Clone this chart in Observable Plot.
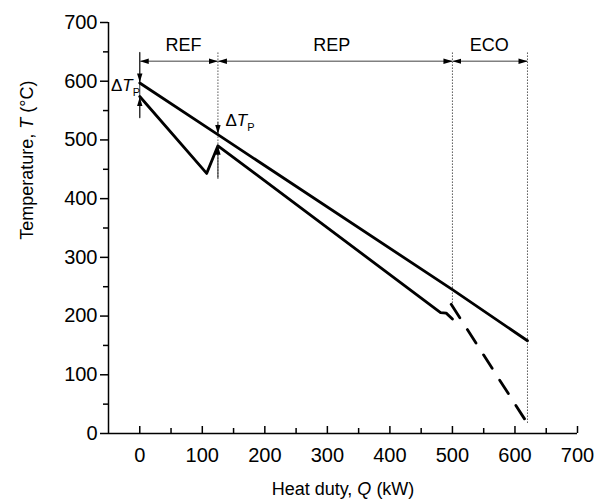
<!DOCTYPE html>
<html><head><meta charset="utf-8">
<script src="https://cdn.jsdelivr.net/npm/d3@7"></script>
<script src="https://cdn.jsdelivr.net/npm/@observablehq/plot@0.6"></script>
<style>body{margin:0;background:#fff}</style>
</head><body><div id="chart"></div>
<script>
// ---- data ----
const hotQ  = [0, 125, 500, 620];
const hotT  = [597, 509, 245, 158];
const coldQ = [0, 107, 125, 481, 490, 500];
const coldT = [574, 443, 490, 206, 205, 195];
const ecoQ  = [498, 617];
const ecoT  = [220, 22];

const sectionNames  = ["REF", "REP", "ECO"];
const sectionStart  = [0, 125, 500];
const sectionEnd    = [125, 500, 620];
const sectionLabelQ = [70, 307, 559];
const sectionLabelT = 661;
const sectionArrowT = 634;

const boundaryQ      = [125, 500, 620];
const boundaryTop    = [649, 649, 649];
const boundaryBottom = [434, 222, 17];

const pinchQ    = [0, 0, 125, 125];
const pinchFrom = [649, 537, 530, 434];
const pinchTo   = [598, 573, 510, 490];

const dtpLabelQ = [-46, 137];
const dtpLabelT = [583, 523];

const xMajor = [0, 100, 200, 300, 400, 500, 600, 700];
const xMinor = [50, 150, 250, 350, 450, 550, 650];
const yMajor = [0, 100, 200, 300, 400, 500, 600, 700];
const yMinor = [50, 150, 250, 350, 450, 550, 650];

const xTitle = "Heat duty, Q (kW)";
const yTitle = "Temperature, T (°C)";

// ---- tables ----
const hot  = hotQ.map((q, i) => ({q, t: hotT[i]}));
const cold = coldQ.map((q, i) => ({q, t: coldT[i]}));
const eco  = ecoQ.map((q, i) => ({q, t: ecoT[i]}));
const sections = sectionNames.map((name, i) => ({name, a: sectionStart[i], b: sectionEnd[i], lq: sectionLabelQ[i]}));
const bounds = boundaryQ.map((q, i) => ({q, top: boundaryTop[i], bottom: boundaryBottom[i]}));
const pinches = pinchQ.map((q, i) => ({q, from: pinchFrom[i], to: pinchTo[i]}));
const dtps = dtpLabelQ.map((q, i) => ({q, t: dtpLabelT[i], anchor: i === 0 ? "start" : "start"}));

const NS = "http://www.w3.org/2000/svg";
function filledArrow() {
  const m = document.createElementNS(NS, "marker");
  m.setAttribute("viewBox", "-9 -3 9 6");
  m.setAttribute("markerWidth", 9);
  m.setAttribute("markerHeight", 6);
  m.setAttribute("refX", 0);
  m.setAttribute("refY", 0);
  m.setAttribute("markerUnits", "userSpaceOnUse");
  m.setAttribute("orient", "auto-start-reverse");
  const p = document.createElementNS(NS, "path");
  p.setAttribute("d", "M-9,-2.7L0,0L-9,2.7Z");
  p.setAttribute("fill", "black");
  p.setAttribute("stroke", "none");
  m.appendChild(p);
  return m;
}

const chart = Plot.plot({
  width: 603,
  height: 500,
  marginLeft: 108,
  marginRight: 26,
  marginTop: 22,
  marginBottom: 67,
  style: {fontFamily: "'Liberation Sans', Arial, sans-serif", background: "white", color: "black"},
  x: {domain: [-50, 700]},
  y: {domain: [0, 700]},
  marks: [
    Plot.axisY(yMajor, {tickSize: 8, tickPadding: 3, fontSize: 20, strokeWidth: 1.5, label: null}),
    Plot.axisY(yMinor, {tickSize: 5, strokeWidth: 1.5, tickFormat: () => "", label: null}),
    Plot.axisX(xMajor, {tickSize: 0, tickPadding: 14, fontSize: 20, label: null}),
    Plot.ruleX(xMajor, {x: d => d, y1: 0, y2: 0, insetTop: -7, strokeWidth: 1.5}),
    Plot.ruleX(xMinor, {x: d => d, y1: 0, y2: 0, insetTop: -5, strokeWidth: 1.5}),
    Plot.ruleX([-50], {y1: 0, y2: 700, strokeWidth: 1.5}),
    Plot.ruleY([0], {x1: -50, x2: 700, strokeWidth: 1.5}),
    // boundary dotted lines
    Plot.link(bounds, {x1: "q", x2: "q", y1: "top", y2: "bottom", stroke: "#555", strokeWidth: 1, strokeDasharray: "1.5,1.5"}),
    Plot.ruleX([0], {y1: 537, y2: 649, stroke: "#333", strokeWidth: 1}),
    // section arrows
    Plot.link(sections, {x1: "a", x2: "b", y1: sectionArrowT, y2: sectionArrowT, stroke: "#808080", strokeWidth: 1.6, markerStart: filledArrow, markerEnd: filledArrow}),
    Plot.text(sections, {x: "lq", y: sectionLabelT, text: "name", fontSize: 18, lineAnchor: "middle", fill: "black"}),
    // curves
    Plot.line(hot, {x: "q", y: "t", stroke: "black", strokeWidth: 2.8}),
    Plot.line(cold, {x: "q", y: "t", stroke: "black", strokeWidth: 2.8}),
    Plot.line(eco, {x: "q", y: "t", stroke: "black", strokeWidth: 2.8, strokeDasharray: "16,14"}),
    // pinch arrows
    Plot.link(pinches, {x1: "q", x2: "q", y1: "from", y2: "to", stroke: "#222", strokeWidth: 1, markerEnd: filledArrow}),
    Plot.text(dtps, {x: "q", y: "t", text: () => "ΔTP", textAnchor: "start", lineAnchor: "bottom", fontSize: 17, fill: "black"}),
    // titles
    Plot.text([xTitle], {frameAnchor: "bottom", text: d => d, dy: 61, lineAnchor: "bottom", fontSize: 18, fill: "black"}),
    Plot.text([yTitle], {frameAnchor: "left", y: 330, text: d => d, dx: -76, rotate: -90, lineAnchor: "bottom", fontSize: 18, fill: "black"})
  ]
});

// rich text: italic symbols and subscript
function rebuild(el, parts) {
  while (el.firstChild) el.removeChild(el.firstChild);
  for (const p of parts) {
    const ts = document.createElementNS(NS, "tspan");
    ts.textContent = p.t;
    if (p.italic) ts.setAttribute("font-style", "italic");
    if (p.sub) { ts.setAttribute("font-size", 11); ts.setAttribute("dy", 5); }
    el.appendChild(ts);
  }
}
chart.querySelectorAll("text").forEach(el => {
  const s = el.textContent;
  if (s === "ΔTP") rebuild(el, [{t: "Δ"}, {t: "T", italic: true}, {t: "P", sub: true}]);
  else if (s === xTitle) rebuild(el, [{t: "Heat duty, "}, {t: "Q", italic: true}, {t: " (kW)"}]);
  else if (s === yTitle) rebuild(el, [{t: "Temperature, "}, {t: "T", italic: true}, {t: " (°C)"}]);
});

document.getElementById("chart").appendChild(chart);
</script>
</body></html>
